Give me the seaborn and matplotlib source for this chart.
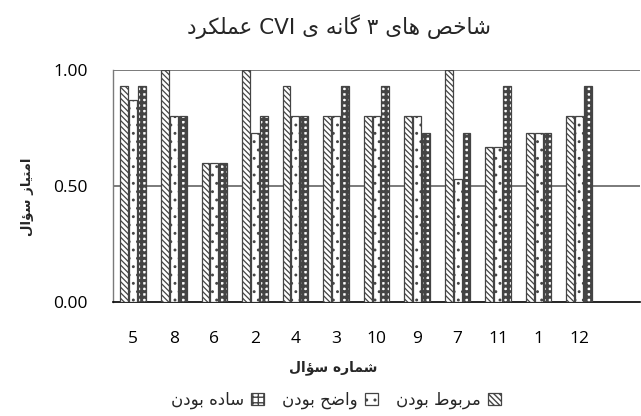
import numpy as np
import pandas as pd
import matplotlib
matplotlib.use("Agg")
import matplotlib.pyplot as plt
import seaborn as sns

# داده ها
questions = ['5', '8', '6', '2', '4', '3', '10', '9', '7', '11', '1', '12']
linked = [0.93, 1.00, 0.60, 1.00, 0.93, 0.80, 0.80, 0.80, 1.00, 0.67, 0.73, 0.80]
clear = [0.87, 0.80, 0.60, 0.73, 0.80, 0.80, 0.80, 0.80, 0.53, 0.67, 0.73, 0.80]
simple = [0.93, 0.80, 0.60, 0.80, 0.80, 0.93, 0.93, 0.73, 0.73, 0.93, 0.73, 0.93]
criteria = ['مربوط بودن', 'واضح بودن', 'ساده بودن']
y_ticks = [0.0, 0.5, 1.0]

title = 'شاخص های ۳ گانه ی CVI عملکرد'
xlabel = 'شماره سؤال'
ylabel = 'امتیاز سؤال'

# شکل دادن حروف فارسی (matplotlib خودش اتصال و راست به چپ را انجام نمی دهد)
FORMS = {
    'ا': ('\uFE8D', '\uFE8E', None, None),
    'ب': ('\uFE8F', '\uFE90', '\uFE91', '\uFE92'),
    'ت': ('\uFE95', '\uFE96', '\uFE97', '\uFE98'),
    'ح': ('\uFEA1', '\uFEA2', '\uFEA3', '\uFEA4'),
    'خ': ('\uFEA5', '\uFEA6', '\uFEA7', '\uFEA8'),
    'د': ('\uFEA9', '\uFEAA', None, None),
    'ر': ('\uFEAD', '\uFEAE', None, None),
    'ز': ('\uFEAF', '\uFEB0', None, None),
    'س': ('\uFEB1', '\uFEB2', '\uFEB3', '\uFEB4'),
    'ش': ('\uFEB5', '\uFEB6', '\uFEB7', '\uFEB8'),
    'ص': ('\uFEB9', '\uFEBA', '\uFEBB', '\uFEBC'),
    'ض': ('\uFEBD', '\uFEBE', '\uFEBF', '\uFEC0'),
    'ط': ('\uFEC1', '\uFEC2', '\uFEC3', '\uFEC4'),
    'ع': ('\uFEC9', '\uFECA', '\uFECB', '\uFECC'),
    'ل': ('\uFEDD', '\uFEDE', '\uFEDF', '\uFEE0'),
    'م': ('\uFEE1', '\uFEE2', '\uFEE3', '\uFEE4'),
    'ن': ('\uFEE5', '\uFEE6', '\uFEE7', '\uFEE8'),
    'ه': ('\uFEE9', '\uFEEA', '\uFEEB', '\uFEEC'),
    'و': ('\uFEED', '\uFEEE', None, None),
    'ؤ': ('\uFE85', '\uFE86', None, None),
    'ی': ('\uFBFC', '\uFBFD', '\uFBFE', '\uFBFF'),
    'ک': ('\uFB8E', '\uFB8F', '\uFB90', '\uFB91'),
    'گ': ('\uFB92', '\uFB93', '\uFB94', '\uFB95'),
}


def shape_word(w):
    out = []
    for i, c in enumerate(w):
        if c not in FORMS:
            out.append(c)
            continue
        prev = w[i - 1] if i > 0 else None
        nxt = w[i + 1] if i < len(w) - 1 else None
        join_prev = prev in FORMS and FORMS[prev][2] is not None
        join_next = nxt in FORMS and FORMS[c][2] is not None
        iso, fin, ini, med = FORMS[c]
        if join_prev and join_next:
            out.append(med)
        elif join_prev:
            out.append(fin)
        elif join_next:
            out.append(ini)
        else:
            out.append(iso)
    return ''.join(reversed(out))


def rtl(text):
    words = []
    for w in text.split(' '):
        if any(c in FORMS for c in w):
            words.append(shape_word(w))
        else:
            words.append(w)
    return ' '.join(reversed(words))


df = pd.DataFrame({
    'question': questions * 3,
    'criterion': [criteria[0]] * 12 + [criteria[1]] * 12 + [criteria[2]] * 12,
    'value': linked + clear + simple,
})

sns.set_theme(style='white')
plt.rcParams['font.family'] = ['Open Sans', 'DejaVu Sans']

fig = plt.figure(figsize=(6.41, 4.16), dpi=100)
ax = fig.add_axes([113 / 641, 1 - 302 / 416, 527 / 641, 232 / 416])

sns.barplot(data=df, x='question', y='value', hue='criterion', order=questions,
            hue_order=criteria, palette=['white'] * 3, width=0.66, gap=0.12,
            edgecolor='#444444', linewidth=0.9, legend=False, ax=ax, zorder=3)

hatches = ['\\\\\\\\\\\\', '..', '+++']
hatch_lw = [0.9, 0.9, 2.2]
for cont, h, lw in zip(ax.containers, hatches, hatch_lw):
    for bar in cont:
        bar.set_hatch(h)
        if hasattr(bar, 'set_hatch_linewidth'):
            bar.set_hatch_linewidth(lw)

ax.set_xlim(-0.5, 12.5)
ax.set_ylim(0, 1.0)
ax.set_yticks(y_ticks)
ax.set_yticklabels([f'{v:.2f}' for v in y_ticks])
for v in y_ticks[1:]:
    ax.axhline(v, color='#7a7a7a', lw=1.4, zorder=1)
ax.tick_params(axis='both', length=0, labelsize=12.5, colors='black')
ax.tick_params(axis='y', pad=18)
ax.tick_params(axis='x', pad=21)
ax.set_xlabel('')
ax.set_ylabel('')
for s in ['top', 'right']:
    ax.spines[s].set_visible(False)
ax.spines['bottom'].set_color('black')
ax.spines['bottom'].set_linewidth(1.2)
ax.spines['left'].set_color('#7a7a7a')
ax.spines['left'].set_linewidth(1.0)

fig.text(339 / 641, 1 - 27 / 416, rtl(title), ha='center', va='center',
         fontsize=15.5, family='DejaVu Sans')
fig.text(333 / 641, 1 - 368 / 416, rtl(xlabel), ha='center', va='center',
         fontsize=10, fontweight='bold', family='DejaVu Sans')
fig.text(27 / 641, 1 - 197 / 416, rtl(ylabel), ha='center', va='center',
         rotation=90, fontsize=9.5, fontweight='bold', family='DejaVu Sans')

conts = list(ax.containers)
leg = fig.legend(handles=[conts[2], conts[1], conts[0]],
                 labels=[rtl(criteria[2]), rtl(criteria[1]), rtl(criteria[0])],
                 ncol=3, markerfirst=False, frameon=False, loc='center',
                 bbox_to_anchor=(336 / 641, 1 - 400 / 416),
                 handlelength=0.8, handleheight=0.8, handletextpad=0.4,
                 columnspacing=1.1, prop={'family': 'DejaVu Sans', 'size': 12})

fig.savefig('out.png', dpi=100)
